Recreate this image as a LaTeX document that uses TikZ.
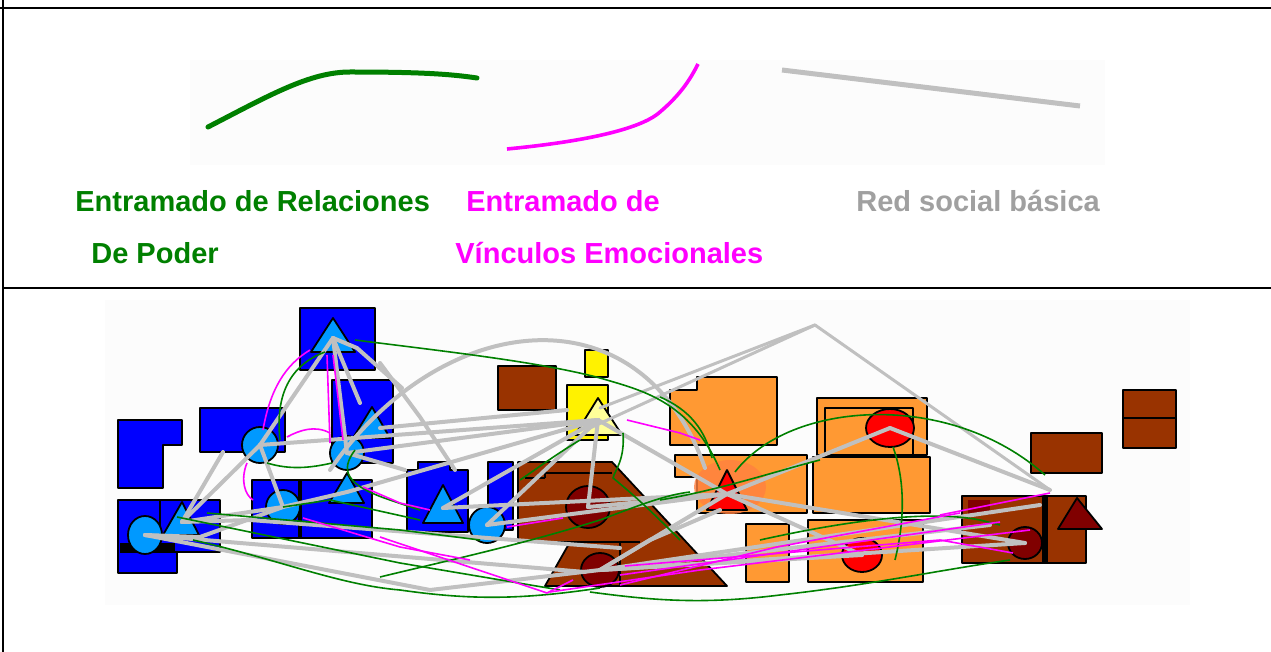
\documentclass[tikz,border=0pt]{standalone}
\usepackage{fontspec}
\setmainfont{Liberation Sans}
\begin{document}
\begin{tikzpicture}[x=0.5pt,y=-0.5pt,line join=round,
  shp/.style={draw=black,line width=0.9pt},
  grayl/.style={draw=linegray,line width=2pt,line cap=round},
  greenl/.style={draw=lgreen,line width=0.8pt},
  magl/.style={draw=lmag,line width=0.8pt},
  lbl/.style={anchor=base west,inner sep=0pt,font=\fontsize{14.5}{16}\selectfont\bfseries}]
\definecolor{pblue}{RGB}{0,0,255}
\definecolor{lblue}{RGB}{0,153,255}
\definecolor{brownc}{RGB}{153,51,0}
\definecolor{dred}{RGB}{128,0,0}
\definecolor{orangec}{RGB}{255,153,51}
\definecolor{lorange}{RGB}{255,128,64}
\definecolor{lyellow}{RGB}{255,255,153}
\definecolor{linegray}{RGB}{192,192,192}
\definecolor{lgreen}{RGB}{0,128,0}
\definecolor{lmag}{RGB}{255,0,255}
\definecolor{tgray}{RGB}{160,160,160}
\definecolor{bgfaint}{RGB}{252,252,252}
\useasboundingbox (0,0) rectangle (1271,652);
\fill[white] (0,0) rectangle (1271,652);
% table borders
\draw[line width=1pt] (0,8) -- (1271,8);
\draw[line width=1pt] (3,0) -- (3,652);
\draw[line width=1pt] (3,288) -- (1271,288);
% legend
\fill[bgfaint] (190,60) rectangle (1105,165);
\draw[lgreen,line width=2.5pt,line cap=round] (208,127) .. controls (270,95) and (310,72) .. (350,72) .. controls (420,72) and (450,74) .. (477,78);
\draw[lmag,line width=1.8pt] (507,149) .. controls (580,142) and (640,130) .. (660,112) .. controls (680,95) and (690,80) .. (698,64);
\draw[linegray,line width=2.5pt] (782,70) -- (1080,106);
\node[lbl,text=lgreen] (t1) at (75,212) {Entramado de Relaciones};
\node[lbl,text=lgreen] (t2) at (91,264) {De Poder};
\node[lbl,text=lmag] (t3) at (466,212) {Entramado de};
\node[lbl,text=lmag] (t4) at (455,264) {Vínculos Emocionales};
\node[lbl,text=tgray] (t5) at (856,212) {Red social básica};
% network background
\fill[bgfaint] (105,300) rectangle (1190,605);
% ---- blue shapes
\path[shp,fill=pblue] (300,308) rectangle (375,370);
\path[shp,fill=pblue] (332,380) rectangle (393,463);
\path[shp,fill=pblue] (118,420) -- (182,420) -- (182,445) -- (163,445) -- (163,488) -- (118,488) -- cycle;
\path[shp,fill=pblue] (200,408) rectangle (285,452);
\path[shp,fill=pblue] (118,500) rectangle (177,573);
\path[shp,fill=pblue] (160,500) rectangle (220,552);
\fill[black] (120,543) rectangle (175,553);
\path[shp,fill=pblue] (252,480) rectangle (300,538);
\path[shp,fill=pblue] (300,480) rectangle (372,538);
\fill[black] (298,480) rectangle (302,538);
\path[shp,fill=pblue] (407,470) -- (418,470) -- (418,462) -- (450,462) -- (450,470) -- (468,470) -- (468,532) -- (407,532) -- cycle;
\path[shp,fill=pblue] (488,462) rectangle (513,530);
% ---- brown / yellow
\path[shp,fill=brownc] (498,366) rectangle (556,410);
\path[shp,fill=yellow] (585,350) rectangle (608,377);
\path[shp,fill=yellow] (567,385) rectangle (608,440);
\path[shp,fill=brownc] (518,462) -- (612,462) -- (727,586) -- (545,586) -- (570,542) -- (518,542) -- cycle;
\draw[line width=0.7pt] (545,478) -- (545,473) -- (612,473) (545,478) -- (525,478) (620,542) -- (620,586) (570,542) -- (640,542);
% ---- orange
\path[shp,fill=orangec] (670,390) -- (697,390) -- (697,377) -- (777,377) -- (777,445) -- (670,445) -- cycle;
\path[shp,fill=orangec] (675,455) -- (807,455) -- (807,513) -- (697,513) -- (697,477) -- (675,477) -- cycle;
\path[shp,fill=orangec] (817,398) rectangle (927,455);
\path[shp,fill=orangec] (825,408) rectangle (913,455);
\path[shp,fill=orangec] (813,457) rectangle (930,513);
\path[shp,fill=orangec] (746,524) rectangle (789,582);
\path[shp,fill=orangec] (808,520) rectangle (923,582);
% ---- brown right
\path[shp,fill=brownc] (1031,433) rectangle (1102,473);
\path[shp,fill=brownc] (1123,390) rectangle (1176,448);
\draw[line width=0.9pt] (1123,418) -- (1176,418);
\path[shp,fill=brownc] (962,496) rectangle (1086,563);
\fill[black] (1042,497) rectangle (1048,562);
\fill[dred] (968,500) rectangle (990,515);
% ---- markers (coordinates)
\coordinate (T1) at (333,338);
\coordinate (T2) at (370,426);
\coordinate (C1) at (260,445);
\coordinate (C2) at (347,453);
\coordinate (C3) at (283,507);
\coordinate (T3) at (347,492);
\coordinate (C4) at (145,535);
\coordinate (T4) at (182,522);
\coordinate (T5) at (443,508);
\coordinate (C5) at (487,525);
\coordinate (TY) at (598,420);
\coordinate (D1) at (588,507);
\coordinate (D2) at (600,570);
\coordinate (TR) at (727,494);
\coordinate (R1) at (890,428);
\coordinate (R2) at (862,555);
\coordinate (D3) at (1025,543);
\coordinate (TD) at (1080,516);
% orange glow
\fill[lorange,opacity=0.8] (730,487) ellipse (36 and 27);
% circles
\path[shp,fill=lblue] (C1) circle (18);
\path[shp,fill=lblue] (C2) circle (17);
\path[shp,fill=lblue] (C3) circle (17);
\path[shp,fill=lblue] (C4) ellipse (17 and 19);
\path[shp,fill=lblue] (C5) circle (18);
\path[shp,fill=dred] (D1) ellipse (22 and 21);
\path[shp,fill=dred] (D2) ellipse (19 and 17);
\path[shp,fill=red] (R1) ellipse (24 and 19);
\path[shp,fill=red] (R2) ellipse (20 and 17);
\path[shp,fill=dred] (D3) ellipse (17 and 16);
% triangles
\path[shp,fill=lblue] (333,318) -- (355,352) -- (311,352) -- cycle;
\path[shp,fill=lblue] (372,407) -- (390,438) -- (353,438) -- cycle;
\path[shp,fill=lblue] (347,473) -- (364,503) -- (329,503) -- cycle;
\path[shp,fill=lblue] (182,502) -- (199,535) -- (163,535) -- cycle;
\path[shp,fill=lblue] (443,485) -- (463,523) -- (423,523) -- cycle;
\path[shp,fill=lyellow] (598,398) -- (622,435) -- (575,435) -- cycle;
\path[shp,fill=red] (727,470) -- (747,510) -- (707,510) -- cycle;
\path[shp,fill=dred] (1077,498) -- (1102,529) -- (1058,529) -- cycle;
% ---- gray network
\draw[grayl] (T1) -- (C1);
\draw[grayl] (T1) -- (C2);
\draw[grayl] (T1) -- (357,348) -- (402,388);
\draw[grayl] (T1) -- (360,403);
\draw[grayl] (C1) -- (T4);
\draw[grayl] (223,452) -- (T4);
\draw[grayl] (T4) -- (C3);
\draw[grayl] (C4) -- (200,537) -- (C3);
\draw[grayl] (C1) -- (C3);
\draw[grayl] (C3) -- (T3);
\draw[grayl] (C2) -- (TY);
\draw[grayl] (C1) -- (TY);
\draw[grayl] (T5) -- (TY);
\draw[grayl] (C5) -- (TY);
\draw[grayl] (T3) -- (TY);
\draw[grayl] (380,428) -- (567,410);
\draw[grayl] (380,363) -- (420,417) -- (455,470);
\draw[grayl] (TY) -- (D1);
\draw[grayl] (C5) -- (TR);
\draw[grayl] (T5) -- (TR);
\draw[grayl] (D1) -- (TR);
\draw[grayl] (TY) -- (TR);
\draw[grayl] (TR) -- (R1);
\draw[grayl] (TR) -- (R2);
\draw[grayl] (TR) -- (D3);
\draw[grayl] (R1) -- (1050,490);
\draw[grayl] (D2) -- (D3);
\draw[grayl] (D2) -- (990,525);
\draw[grayl] (D2) -- (1040,505);
\draw[grayl] (D2) -- (TR);
\draw[grayl] (D2) -- (R2);
\draw[grayl] (C4) -- (430,590) -- (D2);
\draw[grayl] (C4) -- (585,572);
\draw[grayl] (T4) -- (250,520) -- (620,548);
\draw[grayl] (330,470) .. controls (440,310) and (640,285) .. (705,468);
\draw[grayl,line width=1.5pt] (590,428) -- (815,325) -- (1050,490);
\draw[grayl,line width=1.5pt] (600,408) -- (815,325);
\draw[grayl] (C2) -- (405,470);
\draw[grayl] (D2) -- (650,540) -- (720,510);
% ---- green network
\draw[greenl] (355,340) .. controls (450,352) and (540,362) .. (600,378) .. controls (640,390) and (690,400) .. (720,470);
\draw[greenl] (325,352) .. controls (290,365) and (275,395) .. (280,440);
\draw[greenl] (267,463) .. controls (290,470) and (310,468) .. (332,463);
\draw[greenl] (193,540) .. controls (280,560) and (340,585) .. (400,590) .. controls (470,600) and (520,600) .. (600,588);
\draw[greenl] (177,517) -- (400,563) -- (560,590);
\draw[greenl] (207,513) -- (400,530) -- (480,540);
\draw[greenl] (283,507) -- (330,500) -- (420,520);
\draw[greenl] (380,577) .. controls (450,560) and (520,545) .. (600,520) .. controls (640,505) and (665,495) .. (690,492);
\draw[greenl] (580,440) .. controls (555,455) and (535,470) .. (520,480);
\draw[greenl] (623,433) .. controls (625,460) and (615,470) .. (613,478) .. controls (640,500) and (660,520) .. (680,540);
\draw[greenl] (735,472) .. controls (790,400) and (950,390) .. (1045,475);
\draw[greenl] (893,447) .. controls (905,480) and (905,520) .. (895,560);
\draw[greenl] (590,592) .. controls (650,600) and (700,605) .. (780,595) .. controls (870,585) and (940,570) .. (1010,560);
\draw[greenl] (660,397) .. controls (690,410) and (705,430) .. (712,458);
\draw[greenl] (660,500) .. controls (720,490) and (780,470) .. (820,460);
\draw[greenl] (760,540) .. controls (850,520) and (930,510) .. (980,520) -- (1000,525);
\draw[greenl] (355,450) .. controls (340,470) and (345,485) .. (390,500) -- (420,510);
% ---- magenta network
\draw[magl] (310,350) .. controls (285,365) and (270,390) .. (263,430);
\draw[magl] (327,355) -- (330,443);
\draw[magl] (333,355) -- (343,440);
\draw[magl] (247,463) .. controls (240,480) and (245,495) .. (253,500);
\draw[magl] (287,437) .. controls (300,430) and (315,425) .. (330,433);
\draw[magl] (303,518) -- (400,547) -- (470,560);
\draw[magl] (363,487) -- (400,503) -- (430,510);
\draw[magl] (507,527) -- (563,518);
\draw[magl] (380,537) -- (547,593) -- (573,580);
\draw[magl] (620,575) -- (1000,522);
\draw[magl] (620,585) -- (777,547) -- (960,513);
\draw[magl] (625,566) -- (940,540) -- (1013,553);
\draw[magl] (627,420) -- (680,433) -- (700,440);
\draw[magl] (940,515) -- (1050,493);
\draw[magl] (550,592) -- (700,570) -- (1030,530);
\end{tikzpicture}
\end{document}
